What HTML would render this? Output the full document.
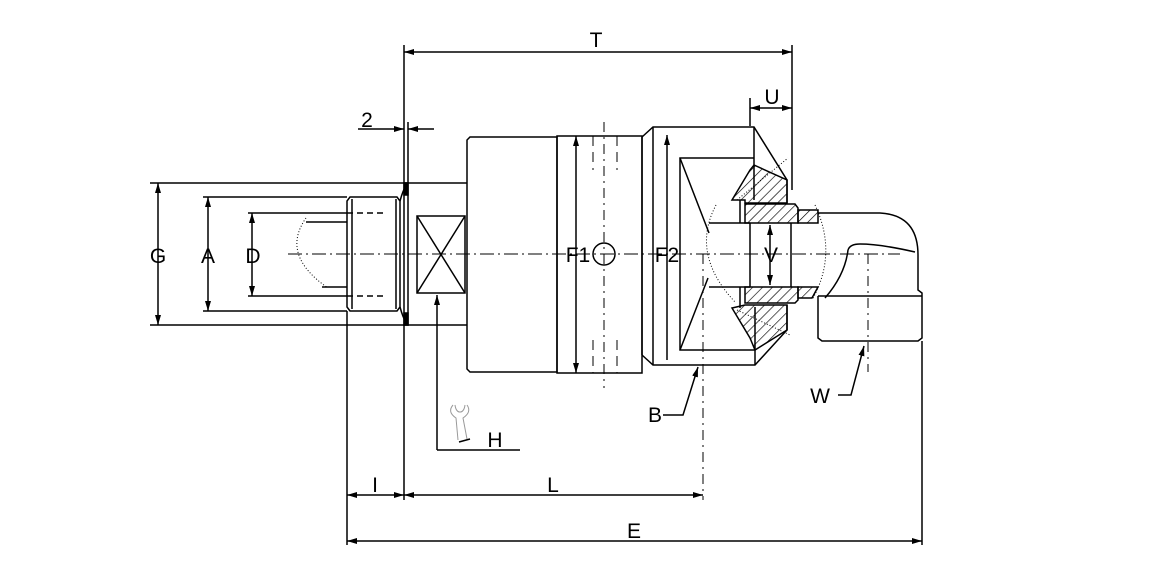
<!DOCTYPE html>
<html><head><meta charset="utf-8"><style>
html,body{margin:0;padding:0;background:#fff}
svg{display:block}
text{font-family:"Liberation Sans",sans-serif;font-size:21px;fill:#000}
</style></head><body>
<svg width="1157" height="573" viewBox="0 0 1157 573" xmlns="http://www.w3.org/2000/svg">
<defs>
<marker id="a" viewBox="0 0 10 6" refX="10" refY="3" markerWidth="10" markerHeight="6" orient="auto-start-reverse" markerUnits="userSpaceOnUse"><path d="M0,0L10,3L0,6z" fill="#000"/></marker>
<pattern id="h" width="7" height="7" patternUnits="userSpaceOnUse" patternTransform="rotate(45)"><line x1="0" y1="0" x2="0" y2="7" stroke="#000" stroke-width="1.3"/></pattern>
</defs>
<g stroke="#000" stroke-width="1.5" fill="none">
<line x1="288" y1="254" x2="900" y2="254" stroke-dasharray="14,4,2,4" stroke-width="1"/>
<line x1="150" y1="183" x2="405" y2="183"/>
<line x1="150" y1="325" x2="405" y2="325"/>
<line x1="203" y1="197" x2="347" y2="197"/>
<line x1="203" y1="311" x2="347" y2="311"/>
<line x1="248" y1="213" x2="347" y2="213"/>
<line x1="248" y1="296" x2="347" y2="296"/>
<line x1="347" y1="213" x2="385" y2="213" stroke-dasharray="6,4"/>
<line x1="347" y1="296" x2="385" y2="296" stroke-dasharray="6,4"/>
<line x1="306" y1="222" x2="347" y2="222"/>
<line x1="322" y1="287" x2="347" y2="287"/>
<path d="M306,218 Q280,255 328,288" stroke-dasharray="1,2" stroke-width="1"/>
<line x1="158" y1="183" x2="158" y2="325" marker-start="url(#a)" marker-end="url(#a)"/>
<line x1="208" y1="197" x2="208" y2="311" marker-start="url(#a)" marker-end="url(#a)"/>
<line x1="252" y1="213" x2="252" y2="296" marker-start="url(#a)" marker-end="url(#a)"/>
<path d="M350,197H397L400,201V307L397,311H350L347,307V201Z"/>
<line x1="352" y1="199" x2="352" y2="309"/>
<line x1="396" y1="199" x2="396" y2="309"/>
<path d="M400,201Q403,190 406,186M400,307Q403,318 406,322"/>
<rect x="404" y="183" width="4" height="142" fill="#fff"/>
<rect x="404" y="183" width="4" height="12" fill="#000"/>
<rect x="404" y="313" width="4" height="12" fill="#000"/>
<line x1="405" y1="183" x2="467" y2="183"/>
<line x1="405" y1="325" x2="467" y2="325"/>
<rect x="417" y="216" width="48" height="77"/>
<line x1="417" y1="216" x2="465" y2="293"/><line x1="465" y1="216" x2="417" y2="293"/>
<path d="M470,137H557V372H470L467,369V140Z"/>
<rect x="557" y="136" width="85" height="237"/>
<line x1="576" y1="136" x2="576" y2="373" marker-start="url(#a)" marker-end="url(#a)"/>
<line x1="604" y1="122" x2="604" y2="388" stroke-dasharray="10,5,2,5" stroke-width="1"/>
<g stroke-dasharray="10,6" stroke-width="1"><line x1="593" y1="136" x2="593" y2="170"/><line x1="617" y1="136" x2="617" y2="170"/><line x1="593" y1="340" x2="593" y2="373"/><line x1="617" y1="340" x2="617" y2="373"/></g>
<circle cx="604" cy="254" r="11"/>
<!-- hex -->
<path d="M642,137L653,127H754L787,180V203"/>
<path d="M642,355L653,365H755L787,330V305"/>
<line x1="642" y1="137" x2="642" y2="355"/>
<line x1="653" y1="127" x2="653" y2="365"/>
<line x1="667" y1="135" x2="667" y2="360" marker-start="url(#a)"/>
<path d="M754,158H680V350H755"/>
<line x1="680" y1="158" x2="709" y2="233"/>
<line x1="680" y1="350" x2="708" y2="278"/>
<line x1="754" y1="127" x2="754" y2="200"/>
<line x1="755" y1="307" x2="755" y2="365"/>
<path d="M709,223H750M709,287H750"/>
<line x1="740" y1="200" x2="740" y2="223"/>
<line x1="740" y1="287" x2="740" y2="308"/>
<!-- hatched wedges -->
<path d="M732,200L750,170L754,165L787,180V203H745V200Z" fill="url(#h)"/>
<path d="M732,308L750,338L755,350L787,330V305H745Z" fill="url(#h)"/>
<!-- seal tube -->
<path d="M745,204H795L798,208V223H745Z" fill="url(#h)"/>
<path d="M745,287H798V300L795,303H745Z" fill="url(#h)"/>
<path d="M798,210H818V223H798Z" fill="url(#h)"/>
<path d="M798,287H818L812,298H798Z" fill="url(#h)"/>
<line x1="750" y1="223" x2="750" y2="287"/>
<line x1="791" y1="223" x2="791" y2="287"/>
<line x1="770" y1="225" x2="770" y2="285" marker-start="url(#a)" marker-end="url(#a)"/>
<path d="M716,205Q690,254 735,302" stroke-width="1" stroke-dasharray="1,2"/>
<path d="M737,200L788,158M737,310L790,335" stroke-width="1" stroke-dasharray="1,2"/>
<path d="M815,205Q838,254 812,300" stroke-width="1" stroke-dasharray="1,2"/>
<!-- elbow -->
<path d="M818,213H880Q918,215 918,255V290L922,293V338L918,341H822L818,338V296"/>
<line x1="818" y1="296" x2="922" y2="296"/>
<path d="M848,250Q850,244 860,244Q880,244 915,252"/>
<path d="M848,250Q845,275 825,298"/>
<line x1="868" y1="254" x2="868" y2="372" stroke-dasharray="10,5,2,5" stroke-width="1"/>
<line x1="703" y1="254" x2="703" y2="500" stroke-dasharray="10,5,2,5" stroke-width="1"/>
<line x1="404" y1="183" x2="404" y2="45"/>
<line x1="792" y1="190" x2="792" y2="45"/>
<line x1="404" y1="52" x2="792" y2="52" marker-start="url(#a)" marker-end="url(#a)"/>
<line x1="750" y1="126" x2="750" y2="98"/>
<line x1="750" y1="108" x2="792" y2="108" marker-start="url(#a)" marker-end="url(#a)"/>
<line x1="408" y1="183" x2="408" y2="122"/>
<line x1="358" y1="129" x2="404" y2="129" marker-end="url(#a)"/>
<line x1="434" y1="129" x2="408" y2="129" marker-end="url(#a)"/>
<line x1="347" y1="311" x2="347" y2="545"/>
<line x1="404" y1="325" x2="404" y2="500"/>
<line x1="922" y1="341" x2="922" y2="545"/>
<line x1="437" y1="450" x2="437" y2="295" marker-end="url(#a)"/>
<line x1="437" y1="450" x2="520" y2="450"/>
<line x1="347" y1="495" x2="404" y2="495" marker-start="url(#a)" marker-end="url(#a)"/>
<line x1="404" y1="495" x2="703" y2="495" marker-start="url(#a)" marker-end="url(#a)"/>
<line x1="347" y1="541" x2="922" y2="541" marker-start="url(#a)" marker-end="url(#a)"/>
<path d="M663,415H683L698,367" marker-end="url(#a)"/>
<path d="M838,395H851L864,346" marker-end="url(#a)"/>
<g stroke="#999" stroke-width="1"><path d="M453,405Q447,412 456,418L458,440M455,405Q456,412 460,412Q464,412 465,405M467,405Q472,412 463,418L467,439"/></g>
<line x1="459" y1="442" x2="470" y2="439" stroke-width="1.5"/>
</g>
<g text-anchor="middle">
<text x="158" y="263">G</text><text x="208" y="263">A</text><text x="253" y="263">D</text>
<text x="596" y="47">T</text><text x="772" y="104">U</text><text x="367" y="127">2</text>
<text x="578" y="262">F1</text><text x="667" y="262">F2</text><text x="771" y="262">V</text>
<text x="375" y="492">I</text><text x="553" y="492">L</text><text x="634" y="538">E</text>
<text x="655" y="422">B</text><text x="820" y="403">W</text><text x="495" y="447">H</text>
</g>
</svg>
</body></html>
